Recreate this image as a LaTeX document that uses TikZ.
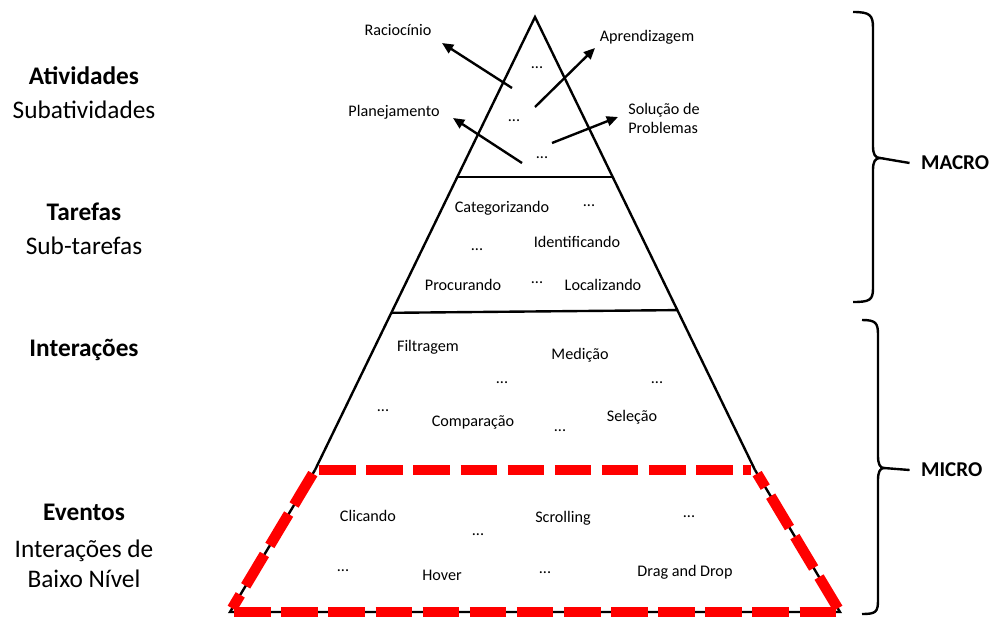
\documentclass[tikz,border=0pt]{standalone}
\usepackage{fontspec}
\setmainfont{Carlito}
\usetikzlibrary{arrows.meta,calc}

\tikzset{
  level/.style={font=\fontsize{18}{21}\selectfont, align=center, inner sep=1pt},
  item/.style={font=\fontsize{11.5}{13.5}\selectfont, inner sep=1pt},
  side/.style={font=\bfseries\fontsize{15}{18}\selectfont, inner sep=2pt},
  edge/.style={line width=1.7pt},
  redline/.style={red, line width=7.5pt, dash pattern=on 26pt off 7.5pt,
    shorten <=3pt, shorten >=3pt},
  pointer/.style={line width=1.7pt, -{Triangle[length=8pt,width=7pt]}},
}

\begin{document}
\begin{tikzpicture}[x=0.025cm, y=-0.025cm]
\useasboundingbox (0,0) rectangle (994,621);

% piramide
\coordinate (apex) at (535,17);
\coordinate (tl) at (315,470);
\coordinate (tr) at (755,470);
\coordinate (bl) at (230,612);
\coordinate (br) at (840,612);
\draw[edge] (tl) -- (apex) -- (tr);
\draw[edge] (tl) -- (bl) -- (br) -- (tr);
\draw[edge] ($(apex)!0.353!(tl)$) -- ($(apex)!0.353!(tr)$);
\draw[edge] ($(apex)!0.653!(tl)$) -- ($(apex)!0.647!(tr)$);

% eventos
\draw[redline] (tl) -- (tr);
\draw[redline] (tl) -- (bl);
\draw[redline] (bl) -- (br);
\draw[redline] (br) -- (tr);

% niveis
\node[level] (ativ) at (84,76) {\textbf{Atividades}};
\node[level] (subativ) at (84,110) {Subatividades};
\node[level] (tar) at (84,212) {\textbf{Tarefas}};
\node[level] (subtar) at (84,246) {Sub-tarefas};
\node[level] (inter) at (84,350) {\textbf{Interações}};
\node[level] (ev) at (84,512) {\textbf{Eventos}};
\node[level] (evsub) at (84,564) {Interações de\\Baixo Nível};

% atividades
\node[item] (rac) at (398,30) {Raciocínio};
\node[item] (apr) at (647,37) {Aprendizagem};
\node[item] (plan) at (394,112) {Planejamento};
\node[item, align=left] (sol) at (664,118) {Solução de\\Problemas};
\node[item] (d1) at (537,68) {...};
\node[item] (d2) at (514,121) {...};
\node[item] (d3) at (542,158) {...};
\coordinate (racfrom) at (512,88);
\coordinate (aprfrom) at (535,107);
\coordinate (planfrom) at (522,163);
\coordinate (solfrom) at (552,143);
\coordinate (racto) at (442,43);
\coordinate (aprto) at (595,48);
\coordinate (planto) at (453,118);
\coordinate (solto) at (618,117);
\draw[pointer] (racfrom) -- (racto);
\draw[pointer] (aprfrom) -- (aprto);
\draw[pointer] (planfrom) -- (planto);
\draw[pointer] (solfrom) -- (solto);

% tarefas
\node[item] (cat) at (502,208) {Categorizando};
\node[item] (d4) at (589,206) {...};
\node[item] (ident) at (577,242) {Identificando};
\node[item] (d5) at (477,250) {...};
\node[item] (proc) at (463,285) {Procurando};
\node[item] (d6) at (537,283) {...};
\node[item] (loc) at (603,285) {Localizando};

% interacoes
\node[item] (filt) at (428,347) {Filtragem};
\node[item] (med) at (580,355) {Medição};
\node[item] (d7) at (502,383) {...};
\node[item] (d8) at (657,383) {...};
\node[item] (d9) at (383,411) {...};
\node[item] (comp) at (473,422) {Comparação};
\node[item] (sel) at (632,417) {Seleção};
\node[item] (d10) at (560,431) {...};

% eventos
\node[item] (clic) at (368,516) {Clicando};
\node[item] (scroll) at (563,518) {Scrolling};
\node[item] (d11) at (689,517) {...};
\node[item] (d12) at (478,535) {...};
\node[item] (d13) at (343,571) {...};
\node[item] (hov) at (442,575) {Hover};
\node[item] (d14) at (545,573) {...};
\node[item] (drag) at (685,572) {Drag and Drop};

% macro / micro
\node[side, anchor=west] (macro) at (918,163) {MACRO};
\node[side, anchor=west] (micro) at (918,470) {MICRO};
\coordinate (macrotip) at (880,158);
\coordinate (microtip) at (884,468);
\draw[edge] (853,12) .. controls (870,12) and (873,15) .. (873,28) -- (873,146)
  .. controls (873,154) and (875,158) .. (macrotip)
  .. controls (875,158) and (873,162) .. (873,170) -- (873,288)
  .. controls (873,300) and (870,302) .. (853,302);
\draw[edge] (macrotip) -- ([xshift=-6pt]macro.west);
\draw[edge] (862,320) .. controls (876,320) and (878,323) .. (878,335) -- (878,456)
  .. controls (878,464) and (880,468) .. (microtip)
  .. controls (880,468) and (878,472) .. (878,480) -- (878,600)
  .. controls (878,612) and (876,614) .. (862,614);
\draw[edge] (microtip) -- ([xshift=-6pt]micro.west);
\end{tikzpicture}
\end{document}
